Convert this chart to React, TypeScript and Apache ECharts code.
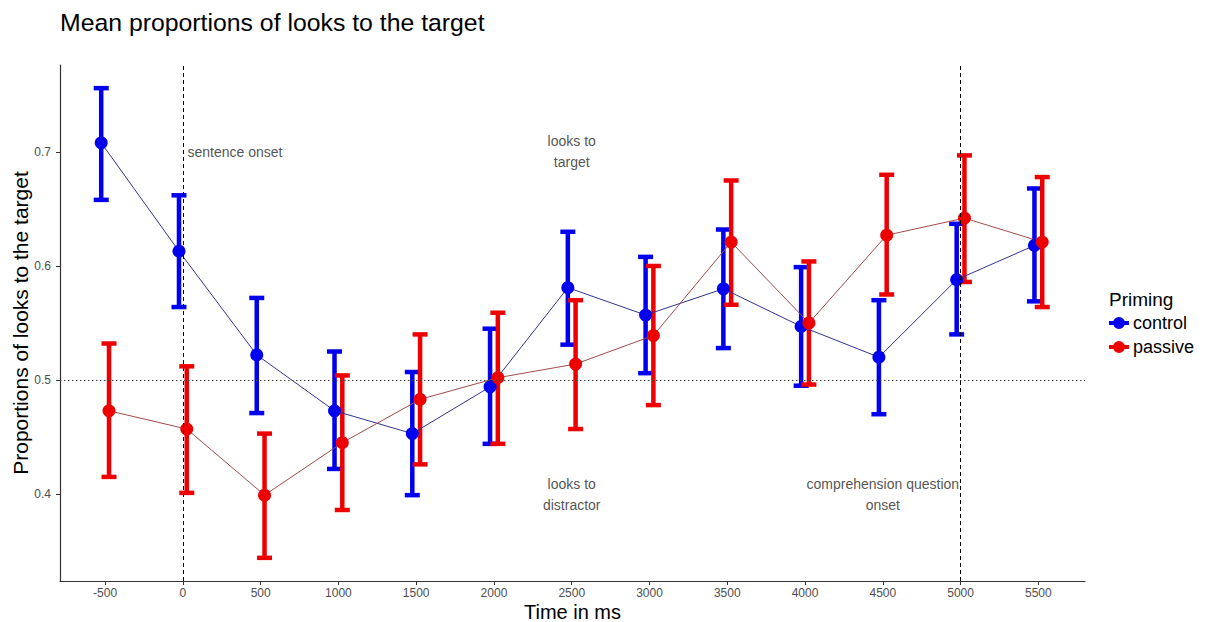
import React, { useEffect, useRef } from "react";
import * as echarts from "echarts";

const timePoints = [-500, 0, 500, 1000, 1500, 2000, 2500, 3000, 3500, 4000, 4500, 5000, 5500];
const controlMean = [0.708, 0.613, 0.522, 0.473, 0.453, 0.494, 0.581, 0.557, 0.58, 0.547, 0.52, 0.588, 0.618];
const controlLow = [0.658, 0.564, 0.471, 0.422, 0.399, 0.444, 0.531, 0.506, 0.528, 0.495, 0.47, 0.54, 0.569];
const controlHigh = [0.756, 0.662, 0.572, 0.525, 0.507, 0.545, 0.63, 0.608, 0.632, 0.599, 0.57, 0.637, 0.668];
const passiveMean = [0.473, 0.457, 0.399, 0.445, 0.483, 0.502, 0.514, 0.539, 0.621, 0.55, 0.627, 0.642, 0.621];
const passiveLow = [0.415, 0.401, 0.344, 0.386, 0.426, 0.444, 0.457, 0.478, 0.566, 0.496, 0.575, 0.586, 0.564];
const passiveHigh = [0.532, 0.512, 0.453, 0.504, 0.54, 0.559, 0.57, 0.6, 0.675, 0.604, 0.68, 0.697, 0.678];
const xTicks = [-500, 0, 500, 1000, 1500, 2000, 2500, 3000, 3500, 4000, 4500, 5000, 5500];
const yTicks = [0.4, 0.5, 0.6, 0.7];
const groups = ["control", "passive"];
const dodge = 25;
const annotations = [
  { x: 30, y: 0.7, text: "sentence onset", align: "left" },
  { x: 2500, y: 0.7, text: "looks to\ntarget", align: "center" },
  { x: 2500, y: 0.4, text: "looks to\ndistractor", align: "center" },
  { x: 4500, y: 0.4, text: "comprehension question\nonset", align: "center" },
];
const eventLines = [0, 5000];
const chanceLevel = 0.5;

const FONT = "'Liberation Sans', Arial, sans-serif";
const BLUE = "#0000EE";
const RED = "#EE0000";
const BLUE_LINE = "#33338f";
const RED_LINE = "#a34a4a";
const KEY_ICON =
  "path://M0,7.5 L20,7.5 L20,11.5 L0,11.5 Z M4,9.5 A6,6 0 1,1 16,9.5 A6,6 0 1,1 4,9.5 Z";

export default function App() {
  const ref = useRef<HTMLDivElement>(null);
  useEffect(() => {
    if (!ref.current) return;
    const chart = echarts.init(ref.current, undefined, { renderer: "svg" });

    const errSeries = (name: string, off: number, low: number[], high: number[], color: string) => ({
      type: "custom",
      name: name + "_err",
      data: timePoints.map((t, i) => [t + off, low[i], high[i]]),
      encode: { x: 0, y: [1, 2] },
      z: 2,
      renderItem: (params: any, api: any) => {
        const x = api.value(0);
        const lo = api.coord([x, api.value(1)]);
        const hi = api.coord([x, api.value(2)]);
        const hw = 7.5;
        const style = { stroke: color, lineWidth: 4.5 };
        return {
          type: "group",
          children: [
            { type: "line", shape: { x1: lo[0], y1: lo[1], x2: hi[0], y2: hi[1] }, style },
            { type: "line", shape: { x1: lo[0] - hw, y1: lo[1], x2: lo[0] + hw, y2: lo[1] }, style },
            { type: "line", shape: { x1: hi[0] - hw, y1: hi[1], x2: hi[0] + hw, y2: hi[1] }, style },
          ],
        };
      },
    });

    const lineSeries = (name: string, off: number, mean: number[], color: string, lineColor: string) => ({
      type: "line",
      name,
      data: timePoints.map((t, i) => [t + off, mean[i]]),
      symbol: "circle",
      symbolSize: 13,
      itemStyle: { color },
      lineStyle: { color: lineColor, width: 1 },
      z: 3,
    });

    chart.setOption({
      animation: false,
      title: [
        {
          text: "Mean proportions of looks to the target",
          left: 55,
          top: 5,
          textStyle: { fontFamily: FONT, fontSize: 24.8, fontWeight: "normal", color: "#000" },
        },
        {
          text: "Priming",
          left: 1104,
          top: 285,
          textStyle: { fontFamily: FONT, fontSize: 19, fontWeight: "normal", color: "#000" },
        },
      ],
      legend: {
        orient: "vertical",
        left: 1104,
        top: 309,
        itemGap: 6,
        itemWidth: 20,
        itemHeight: 20,
        textStyle: { fontFamily: FONT, fontSize: 18, color: "#000", padding: [0, 0, 0, -1] },
        data: [
          { name: groups[0], icon: KEY_ICON, itemStyle: { color: BLUE } },
          { name: groups[1], icon: KEY_ICON, itemStyle: { color: RED } },
        ],
      },
      grid: { left: 60, right: 126, top: 65, bottom: 41, containLabel: false, outerBoundsMode: "none" },
      xAxis: {
        type: "value",
        min: -790,
        max: 5800,
        name: "Time in ms",
        nameLocation: "middle",
        nameGap: 21,
        nameMoveOverlap: false,
        nameTextStyle: { fontFamily: FONT, fontSize: 20, color: "#000" },
        splitLine: { show: false },
        axisLine: { show: true, onZero: false, lineStyle: { color: "#333", width: 1.2 } },
        axisTick: { show: true, length: 4, lineStyle: { color: "#333" }, customValues: xTicks },
        axisLabel: {
          fontFamily: FONT,
          fontSize: 12,
          color: "#4d4d4d",
          margin: 6,
          customValues: xTicks,
          formatter: (v: number) => String(v),
        },
      },
      yAxis: {
        type: "value",
        min: 0.3237,
        max: 0.7763,
        name: "Proportions of looks to the target",
        nameLocation: "middle",
        nameGap: 29,
        nameMoveOverlap: false,
        nameTextStyle: { fontFamily: FONT, fontSize: 21, color: "#000" },
        splitLine: { show: false },
        axisLine: { show: true, onZero: false, lineStyle: { color: "#333", width: 1.2 } },
        axisTick: { show: true, length: 4, lineStyle: { color: "#333" }, customValues: yTicks },
        axisLabel: {
          fontFamily: FONT,
          fontSize: 12,
          color: "#4d4d4d",
          margin: 9,
          customValues: yTicks,
          formatter: (v: number) => v.toFixed(1),
        },
      },
      series: [
        {
          type: "scatter",
          name: "refs",
          data: [],
          silent: true,
          markLine: {
            silent: true,
            symbol: "none",
            label: { show: false },
            data: [
              ...eventLines.map((x) => ({
                xAxis: x,
                lineStyle: { color: "#000", type: [4, 3], width: 1 },
              })),
              { yAxis: chanceLevel, lineStyle: { color: "#444", type: [1.5, 2.5], width: 1 } },
            ],
          },
        },
        errSeries(groups[0], -dodge, controlLow, controlHigh, BLUE),
        errSeries(groups[1], dodge, passiveLow, passiveHigh, RED),
        lineSeries(groups[0], -dodge, controlMean, BLUE, BLUE_LINE),
        lineSeries(groups[1], dodge, passiveMean, RED, RED_LINE),
        {
          type: "scatter",
          name: "annotations",
          symbolSize: 0,
          silent: true,
          z: 5,
          data: annotations.map((a) => ({
            value: [a.x, a.y],
            label: {
              show: true,
              position: "inside",
              formatter: a.text,
              align: a.align,
              verticalAlign: "middle",
              fontFamily: FONT,
              fontSize: 14,
              lineHeight: 21,
              color: "#262626",
            },
          })),
        },
      ],
    });
    return () => chart.dispose();
  }, []);
  return (
    <div
      ref={ref}
      style={{ position: "absolute", left: 0, top: 0, width: 1211, height: 622 }}
    />
  );
}
